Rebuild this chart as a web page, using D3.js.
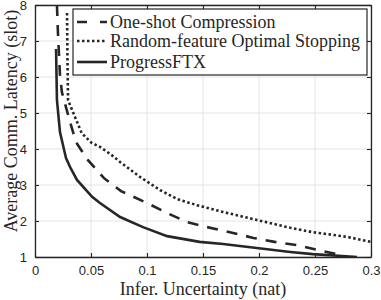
<!DOCTYPE html>
<html lang="en">
<head>
<meta charset="UTF-8">
<script src="https://d3js.org/d3.v7.min.js"></script>
<style>
  body { margin: 0; background: #fff; }
  svg { display: block; }
  .tick text { font-family: "Liberation Sans", Arial, sans-serif; font-size: 13px; fill: #262626; }
  .lbl { font-family: "Liberation Serif", "Times New Roman", serif; fill: #262626; }
</style>
</head>
<body>
<svg id="chart" width="381" height="300"></svg>
<script>
// series
const seriesNames = ["One-shot Compression", "Random-feature Optimal Stopping", "ProgressFTX"];

const xDash = [0.0196, 0.0205, 0.0223, 0.024, 0.0259, 0.0313, 0.0366, 0.0473, 0.0616, 0.0768, 0.1, 0.118, 0.136, 0.1536, 0.174, 0.195, 0.214, 0.234, 0.253, 0.272, 0.276];
const yDash = [8, 7.22, 6.06, 5.58, 5.36, 4.75, 4.19, 3.69, 3.19, 2.83, 2.5, 2.22, 1.97, 1.83, 1.69, 1.53, 1.42, 1.33, 1.19, 1.06, 1.0];

const xDot = [0.0286, 0.029, 0.0295, 0.0357, 0.0417, 0.0506, 0.058, 0.0685, 0.076, 0.094, 0.1116, 0.127, 0.1446, 0.168, 0.198, 0.228, 0.248, 0.2786, 0.3];
const yDot = [7.78, 6.47, 5.36, 4.89, 4.44, 4.17, 4.06, 3.83, 3.64, 3.22, 2.86, 2.61, 2.44, 2.25, 2.03, 1.81, 1.69, 1.56, 1.42];

const xSolid = [0.0188, 0.0192, 0.0196, 0.0223, 0.026, 0.0277, 0.0313, 0.0375, 0.051, 0.058, 0.076, 0.0964, 0.118, 0.147, 0.168, 0.198, 0.228, 0.248, 0.2875];
const ySolid = [6.78, 6.06, 5.36, 4.47, 3.97, 3.75, 3.5, 3.14, 2.67, 2.5, 2.11, 1.83, 1.58, 1.42, 1.36, 1.25, 1.14, 1.08, 1.0];

const xTicks = [0, 0.05, 0.1, 0.15, 0.2, 0.25, 0.3];
const xTickLabels = ["0", "0.05", "0.1", "0.15", "0.2", "0.25", "0.3"];
const yTicks = [1, 2, 3, 4, 5, 6, 7, 8];

const ink = "#262626";
const mL = 35, mR = 371, mT = 5, mB = 257;

const svg = d3.select("#chart");
const x = d3.scaleLinear().domain([0, 0.3]).range([mL, mR]);
const y = d3.scaleLinear().domain([1, 8]).range([mB, mT]);

// grid
svg.append("g").selectAll("line").data(xTicks).join("line")
  .attr("x1", d => x(d)).attr("x2", d => x(d))
  .attr("y1", mT).attr("y2", mB)
  .attr("stroke", "#e3e3e3").attr("stroke-width", 1);
svg.append("g").selectAll("line").data(yTicks).join("line")
  .attr("x1", mL).attr("x2", mR)
  .attr("y1", d => y(d)).attr("y2", d => y(d))
  .attr("stroke", "#e3e3e3").attr("stroke-width", 1);

// curves
svg.append("clipPath").attr("id", "clip").append("rect")
  .attr("x", mL).attr("y", mT).attr("width", mR - mL).attr("height", mB - mT);

const line = d3.line().x(d => x(d[0])).y(d => y(d[1]));
const curves = [
  { xs: xDash, ys: yDash, dash: "11,9" },
  { xs: xDot, ys: yDot, dash: "2.5,2.5" },
  { xs: xSolid, ys: ySolid, dash: null }
];
const plot = svg.append("g").attr("clip-path", "url(#clip)");
curves.forEach(c => {
  plot.append("path")
    .datum(c.xs.map((v, i) => [v, c.ys[i]]))
    .attr("d", line)
    .attr("fill", "none")
    .attr("stroke", ink)
    .attr("stroke-width", 2.6)
    .attr("stroke-dasharray", c.dash);
});

// axes (box with inward ticks)
svg.append("g").attr("transform", `translate(0,${mB})`)
  .call(d3.axisBottom(x).tickValues(xTicks).tickFormat((d, i) => xTickLabels[i]).tickSizeInner(-4).tickSizeOuter(0).tickPadding(9));
svg.append("g").attr("transform", `translate(${mL},0)`)
  .call(d3.axisLeft(y).tickValues(yTicks).tickFormat(d3.format("d")).tickSizeInner(-4).tickSizeOuter(0).tickPadding(8));
svg.append("g").attr("transform", `translate(0,${mT})`)
  .call(d3.axisTop(x).tickValues(xTicks).tickFormat("").tickSizeInner(-4).tickSizeOuter(0));
svg.append("g").attr("transform", `translate(${mR},0)`)
  .call(d3.axisRight(y).tickValues(yTicks).tickFormat("").tickSizeInner(-4).tickSizeOuter(0));
svg.selectAll(".domain, .tick line").attr("stroke", ink).attr("stroke-width", 1.1);
svg.selectAll(".domain").attr("stroke-width", 1.3);

// axis labels
svg.append("text").attr("class", "lbl")
  .attr("x", (mL + mR) / 2).attr("y", 295)
  .attr("text-anchor", "middle").attr("font-size", 18)
  .text("Infer. Uncertainty (nat)");
svg.append("text").attr("class", "lbl")
  .attr("transform", "translate(16.5,121) rotate(-90)")
  .attr("text-anchor", "middle").attr("font-size", 18)
  .text("Average Comm. Latency (slot)");

// legend
const lg = svg.append("g");
lg.append("rect").attr("x", 73).attr("y", 9).attr("width", 294).attr("height", 66)
  .attr("fill", "#fff").attr("stroke", ink).attr("stroke-width", 1.2);
const rowY = [22, 41, 62];
curves.forEach((c, i) => {
  lg.append("line").attr("x1", 77).attr("x2", 107)
    .attr("y1", rowY[i]).attr("y2", rowY[i])
    .attr("stroke", ink).attr("stroke-width", 2.6)
    .attr("stroke-dasharray", i === 0 ? "10,13" : c.dash);
  lg.append("text").attr("class", "lbl")
    .attr("x", 110).attr("y", rowY[i] + 5.5)
    .attr("font-size", 18)
    .text(seriesNames[i]);
});
</script>
</body>
</html>
